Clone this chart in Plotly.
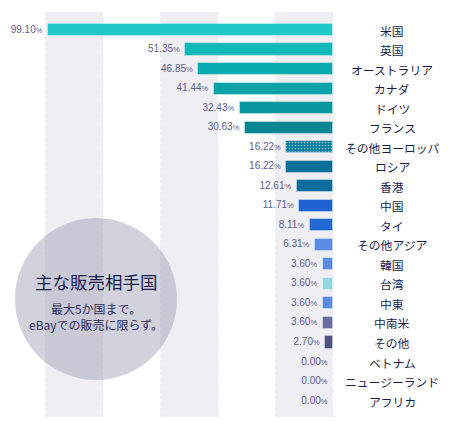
import plotly.graph_objects as go

countries = ["米国", "英国", "オーストラリア", "カナダ", "ドイツ", "フランス", "その他ヨーロッパ",
             "ロシア", "香港", "中国", "タイ", "その他アジア", "韓国", "台湾", "中東", "中南米",
             "その他", "ベトナム", "ニュージーランド", "アフリカ"]
shares = [99.10, 51.35, 46.85, 41.44, 32.43, 30.63, 16.22, 16.22, 12.61, 11.71, 8.11, 6.31,
          3.60, 3.60, 3.60, 3.60, 2.70, 0.00, 0.00, 0.00]
bar_colors = ["#20c8c8", "#12b8ba", "#0aabb0", "#08a2a8", "#08979f", "#0a8693", "#0a7d9a",
              "#0a6f98", "#0c6c9c", "#1f63d2", "#2168d2", "#5a8de3", "#5a8ce0", "#94d6e0",
              "#5a8ce0", "#6a6ba0", "#50527f", "#ffffff", "#ffffff", "#ffffff"]
patterns = ["", "", "", "", "", "", ".", "", "", "", "", "", "", "", "", "", "", "", "", ""]

W, H = 452, 423
px_per = 2.876
x0px = 333
row0, rowstep = 30, 19.53

xr = [x0px / px_per, -(W - x0px) / px_per]
yr = [19 + (H - (row0 + 19 * rowstep)) / rowstep, -row0 / rowstep]

fig = go.Figure()
fig.add_trace(go.Bar(
    y=countries, x=shares, orientation="h", width=0.62,
    marker=dict(color=bar_colors, line=dict(color="rgba(255,255,255,0.35)", width=1),
                pattern=dict(shape=patterns, fgcolor="#1d8aa8", size=3, solidity=0.25)),
    hoverinfo="skip", showlegend=False,
))
fig.add_trace(go.Scatter(
    y=countries, x=shares, mode="text",
    text=[f"{v:.2f}<span style='font-size:7.5px'>%</span>\u00a0\u00a0" for v in shares],
    textposition="middle left",
    textfont=dict(family="Liberation Sans, Arial", size=10, color="#5c5c8c"),
    hoverinfo="skip", showlegend=False,
))

shapes = []
y_top = 1 - 12 / H
y_bot = 1 - 417 / H
for a in [0, 40, 80]:
    shapes.append(dict(type="rect", xref="x", yref="paper", x0=a, x1=a + 20, y0=y_bot, y1=y_top,
                       fillcolor="#eeeef3", line=dict(width=0), layer="below"))
for a in [0, 20, 40, 60, 80, 100]:
    shapes.append(dict(type="line", xref="x", yref="paper", x0=a, x1=a, y0=y_bot, y1=y_top,
                       line=dict(color="#ebebf1", width=1, dash="dot"), layer="below"))
shapes.append(dict(type="circle", xref="paper", yref="paper",
                   x0=15 / W, x1=177 / W, y0=1 - 380 / H, y1=1 - 218 / H,
                   fillcolor="rgba(142,142,172,0.40)", line=dict(width=0), layer="below"))

annotations = []
for c in countries:
    annotations.append(dict(x=392 / W, xref="paper", y=c, yref="y", text=c, showarrow=False,
                            xanchor="center", yanchor="middle",
                            font=dict(family="Noto Sans CJK JP", size=11.8, color="#1c1c4c")))
annotations.append(dict(x=96 / W, y=1 - 281 / H, xref="paper", yref="paper", text="主な販売相手国",
                        showarrow=False, xanchor="center", yanchor="middle",
                        font=dict(family="Noto Sans CJK JP", size=17.5, color="#1c1c4c")))
annotations.append(dict(x=96 / W, y=1 - 316 / H, xref="paper", yref="paper",
                        text="最大5か国まで。<br>eBayでの販売に限らず。",
                        showarrow=False, xanchor="center", yanchor="middle",
                        font=dict(family="Noto Sans CJK JP", size=12, color="#2a2a58")))

fig.update_layout(
    width=W, height=H, margin=dict(l=0, r=0, t=0, b=0),
    paper_bgcolor="white", plot_bgcolor="white",
    xaxis=dict(range=xr, visible=False, showgrid=False, zeroline=False),
    yaxis=dict(range=yr, visible=False, showgrid=False, categoryorder="array", categoryarray=countries),
    shapes=shapes, annotations=annotations, bargap=0,
)
fig.write_html("out.html", config={"displayModeBar": False},
               post_script="document.body.style.margin='0';document.body.style.overflow='hidden';")
